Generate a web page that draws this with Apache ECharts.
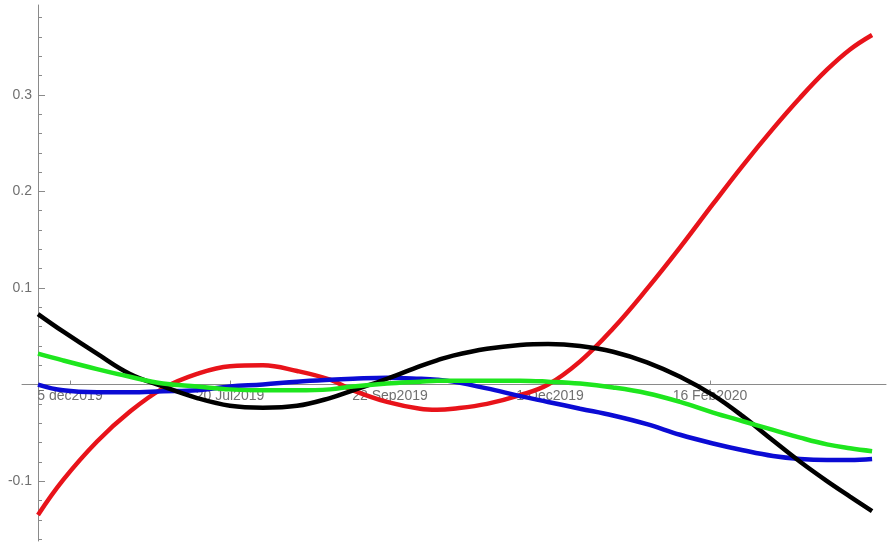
<!DOCTYPE html>
<html>
<head>
<meta charset="utf-8">
<script src="https://cdn.jsdelivr.net/npm/echarts@6/dist/echarts.min.js"></script>
<style>html,body{margin:0;padding:0;background:#fff}#c{width:888px;height:547px}</style>
</head>
<body>
<div id="c"></div>
<script>
// x positions in tick units (0 = start of series, ticks at 0.2, 1.2, ...)
const xPos = [0, 0.156, 0.369, 0.575, 0.781, 0.994, 1.2, 1.406, 1.619, 1.825, 1.969, 2.181, 2.388, 2.494, 2.594, 2.806, 3.013, 3.188, 3.388, 3.594, 3.806, 4.013, 4.219, 4.406, 4.594, 4.763, 4.931, 5.075, 5.213];
const redVals   = [-0.135, -0.099, -0.059, -0.028, -0.004, 0.011, 0.019, 0.020, 0.014, 0.005, -0.006, -0.018, -0.025, -0.026, -0.025, -0.020, -0.011, 0.000, 0.024, 0.058, 0.099, 0.142, 0.187, 0.227, 0.265, 0.297, 0.326, 0.347, 0.362];
const blackVals = [0.073, 0.055, 0.032, 0.011, -0.002, -0.014, -0.022, -0.024, -0.022, -0.014, -0.006, 0.006, 0.019, 0.025, 0.030, 0.037, 0.041, 0.042, 0.040, 0.034, 0.023, 0.008, -0.011, -0.033, -0.058, -0.080, -0.100, -0.116, -0.131];
const greenVals = [0.032, 0.025, 0.016, 0.008, 0.001, -0.002, -0.005, -0.006, -0.006, -0.005, -0.002, 0.001, 0.003, 0.004, 0.004, 0.004, 0.004, 0.003, 0.001, -0.003, -0.009, -0.018, -0.029, -0.038, -0.047, -0.055, -0.062, -0.066, -0.069];
const blueVals  = [0, -0.006, -0.008, -0.008, -0.007, -0.006, -0.002, 0, 0.003, 0.005, 0.006, 0.007, 0.006, 0.005, 0.003, -0.004, -0.012, -0.018, -0.025, -0.032, -0.041, -0.052, -0.061, -0.068, -0.074, -0.077, -0.078, -0.078, -0.077];

const xTickPos = [0.2, 1.2, 2.2, 3.2, 4.2];
const xTickLabels = ['5 dec2019', '20 Jul2019', '22 Sep2019', '1 Dec2019', '16 Feb2020'];
const yLabelVals = [-0.1, 0.1, 0.2, 0.3];
const yLabelText = ['-0.1', '0.1', '0.2', '0.3'];
const yMajorTicks = [-0.1, 0, 0.1, 0.2, 0.3];
const yMinorTicks = [-0.16, -0.14, -0.12, -0.08, -0.06, -0.04, -0.02, 0.02, 0.04, 0.06, 0.08, 0.12, 0.14, 0.16, 0.18, 0.22, 0.24, 0.26, 0.28, 0.32, 0.34, 0.36, 0.38];

const zip = (ys) => xPos.map((x, i) => [x, ys[i]]);
const W = 888, H = 547;
const gLeft = 22, gRight = 2, gTop = 5, gBottom = 6;
const xMin = -0.1, xMax = 5.3, yMin = -0.162, yMax = 0.393;
const gW = W - gLeft - gRight, gH = H - gTop - gBottom;
const xAxisOffset = -gH * (0 - yMin) / (yMax - yMin);
const yAxisOffset = -gW * (0 - xMin) / (xMax - xMin);
const font = 'Liberation Sans, Arial, sans-serif';
const axisColor = '#8a8a8a';
const labelColor = '#707070';

const chart = echarts.init(document.getElementById('c'));
chart.setOption({
  animation: false,
  grid: { left: gLeft, right: gRight, top: gTop, bottom: gBottom, containLabel: false, outerBoundsMode: 'none' },
  xAxis: {
    type: 'value', min: xMin, max: xMax, offset: xAxisOffset,
    splitLine: { show: false },
    axisLine: { onZero: false, lineStyle: { color: axisColor, width: 1 } },
    axisTick: { show: true, inside: true, length: 4, customValues: xTickPos, lineStyle: { color: axisColor } },
    axisLabel: {
      customValues: xTickPos, margin: 5, color: labelColor, fontSize: 14, fontFamily: font,
      formatter: (v) => { const i = xTickPos.findIndex(p => Math.abs(p - v) < 1e-6); return i >= 0 ? xTickLabels[i] : ''; }
    }
  },
  yAxis: [{
    type: 'value', min: yMin, max: yMax, offset: yAxisOffset,
    splitLine: { show: false },
    axisLine: { onZero: false, lineStyle: { color: axisColor, width: 1 } },
    axisTick: { show: true, inside: true, length: 7, customValues: yMajorTicks, lineStyle: { color: axisColor } },
    axisLabel: {
      customValues: yLabelVals, margin: 6, color: labelColor, fontSize: 14, fontFamily: font,
      formatter: (v) => { const i = yLabelVals.findIndex(p => Math.abs(p - v) < 1e-6); return i >= 0 ? yLabelText[i] : ''; }
    }
  }, {
    type: 'value', min: yMin, max: yMax, position: 'left', offset: yAxisOffset,
    splitLine: { show: false },
    axisLine: { show: false, onZero: false },
    axisTick: { show: true, inside: true, length: 4, customValues: yMinorTicks, lineStyle: { color: axisColor } },
    axisLabel: { show: false }
  }],
  series: [
    { type: 'line', data: zip(redVals), smooth: 0.4, showSymbol: false, lineStyle: { color: '#e8131a', width: 4.5 }, itemStyle: { color: '#e8131a' } },
    { type: 'line', data: zip(blueVals), smooth: 0.4, showSymbol: false, lineStyle: { color: '#0b0bd4', width: 4.5 }, itemStyle: { color: '#0b0bd4' } },
    { type: 'line', data: zip(blackVals), smooth: 0.4, showSymbol: false, lineStyle: { color: '#000000', width: 4.5 }, itemStyle: { color: '#000000' } },
    { type: 'line', data: zip(greenVals), smooth: 0.4, showSymbol: false, lineStyle: { color: '#1ee61e', width: 4.5 }, itemStyle: { color: '#1ee61e' } }
  ]
});
</script>
</body>
</html>
